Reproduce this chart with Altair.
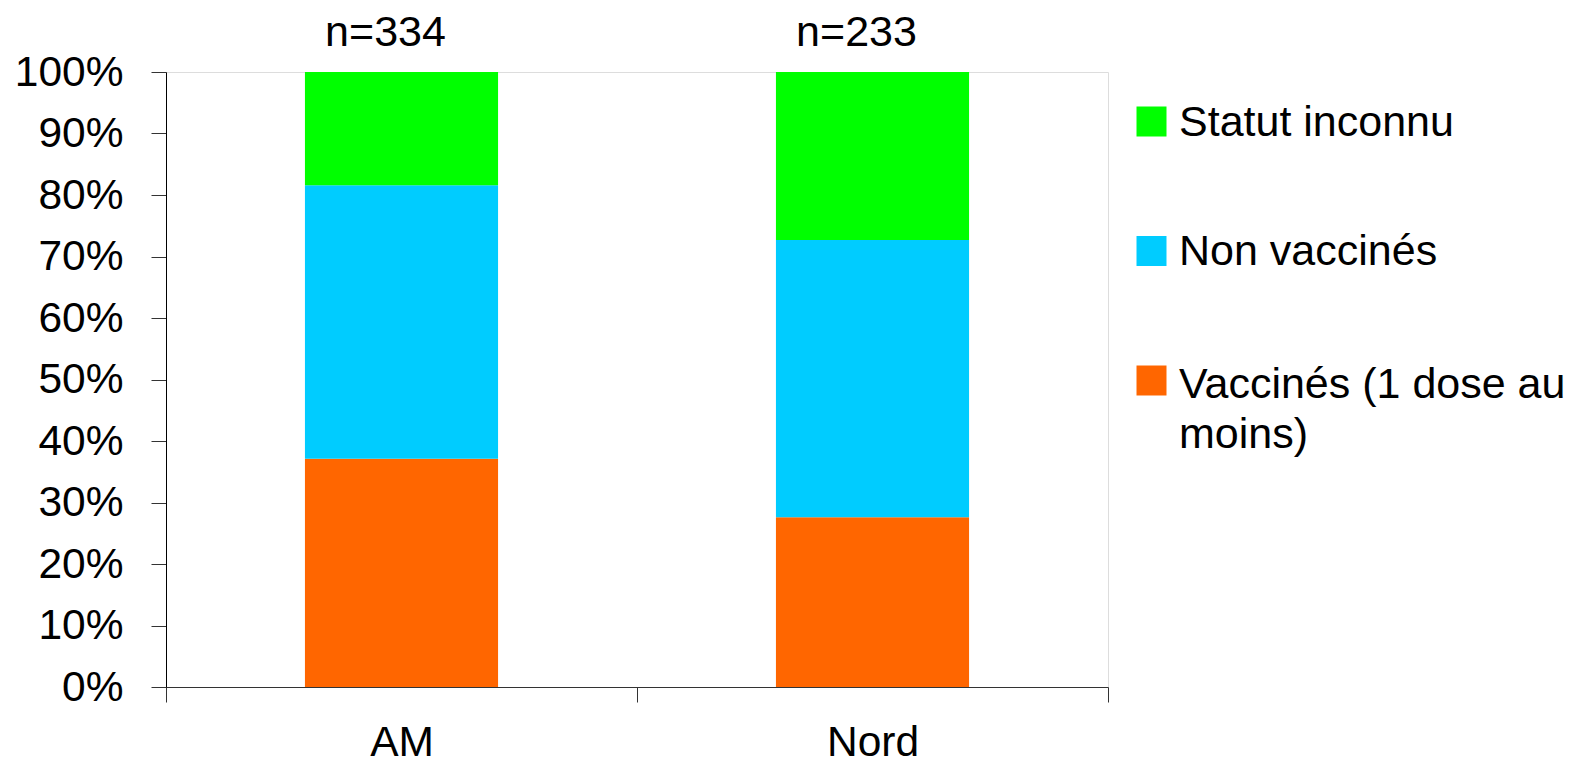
import altair as alt
import pandas as pd

# ---- data ----
regions = ["AM", "Nord"]
sample_sizes = [334, 233]
statuses = ["Vaccinés (1 dose au moins)", "Non vaccinés", "Statut inconnu"]  # bottom -> top
share_am = [0.371, 0.445, 0.184]
share_nord = [0.276, 0.451, 0.273]
legend_order = ["Statut inconnu", "Non vaccinés", "Vaccinés (1 dose au moins)"]
legend_colors = ["#00FF00", "#00CCFF", "#FF6600"]
y_ticks = [0.0, 0.1, 0.2, 0.3, 0.4, 0.5, 0.6, 0.7, 0.8, 0.9, 1.0]

rows = []
for region, shares in zip(regions, [share_am, share_nord]):
    for k, (status, v) in enumerate(zip(statuses, shares)):
        rows.append({"region": region, "status": status, "share": v, "stack_order": k})
df = pd.DataFrame(rows)
labels_df = pd.DataFrame({"region": regions, "n": [f"n={n}" for n in sample_sizes]})

FONT = "Liberation Sans"
FS_AXIS = 42.5
FS_TEXT = 43
LABEL_DY = -20  # shared vertical shift of guide labels (compensated on axes)

x_enc = alt.X(
    "region:N",
    sort=regions,
    scale=alt.Scale(paddingInner=0, paddingOuter=0),
    axis=alt.Axis(
        title=None, labelAngle=0, tickBand="extent", tickSize=15,
        labelPadding=19 - LABEL_DY,
        labelFontSize=FS_AXIS, labelFont=FONT, labelColor="black",
        domainColor="#333333", tickColor="#333333", grid=False,
    ),
)

bars = alt.Chart(df).mark_bar(width=alt.RelativeBandSize(0.41)).encode(
    x=x_enc,
    y=alt.Y(
        "share:Q",
        stack="zero",
        scale=alt.Scale(domain=[0, 1], nice=False),
        axis=alt.Axis(
            title=None, values=y_ticks, format=".0%", tickSize=15, labelPadding=28,
            labelOffset=-LABEL_DY,
            labelFontSize=FS_AXIS, labelFont=FONT, labelColor="black",
            domainColor="black", tickColor="#333333", grid=False,
        ),
    ),
    color=alt.Color(
        "status:N",
        scale=alt.Scale(domain=legend_order, range=legend_colors),
        legend=alt.Legend(
            title=None, orient="none", legendX=964, legendY=28, padding=0,
            symbolType="square", symbolSize=900, symbolStrokeWidth=0,
            labelFontSize=FS_TEXT, labelFont=FONT, labelColor="black", labelLimit=0,
            labelOffset=6, rowPadding=84.5,
            labelBaseline={"expr": "datum.label == 'Vaccinés (1 dose au moins)' ? 'line-top' : 'top'"},
            labelExpr="datum.label == 'Vaccinés (1 dose au moins)' ? ['Vaccinés (1 dose au', 'moins)'] : datum.label",
        ),
    ),
    order=alt.Order("stack_order:Q"),
)

counts = alt.Chart(labels_df).mark_text(
    fontSize=FS_TEXT, font=FONT, dy=-26, dx=-16, baseline="alphabetic", color="black"
).encode(
    x=alt.X("region:N", sort=regions),
    y=alt.datum(1),
    text="n:N",
)

chart = alt.layer(bars, counts).properties(
    width=942,
    height=615,
    autosize=alt.AutoSizeParams(type="none"),
    padding={"left": 158, "top": 64, "right": 456, "bottom": 78},
).configure_view(stroke=None).configure(
    style={"guide-label": {"lineHeight": 50, "dy": LABEL_DY}}
)

chart.save("out.html", embed_options={"renderer": "svg", "actions": False})
